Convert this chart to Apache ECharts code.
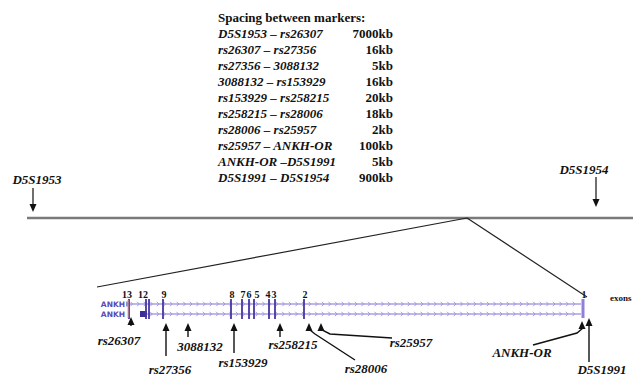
<!DOCTYPE html>
<html><head><meta charset="utf-8">
<script src="https://cdn.jsdelivr.net/npm/echarts@6/dist/echarts.min.js"></script>
<style>html,body{margin:0;padding:0;background:#fff}#c{width:633px;height:375px}</style>
</head><body><div id="c"></div>
<script>
// ---- data ----
const tableTitle = 'Spacing between markers:';
const pairLabels = ['D5S1953 – rs26307', 'rs26307 – rs27356', 'rs27356 – 3088132', '3088132 – rs153929',
  'rs153929 – rs258215', 'rs258215 – rs28006', 'rs28006 – rs25957', 'rs25957 – ANKH-OR',
  'ANKH-OR –D5S1991', 'D5S1991 – D5S1954'];
const spacingKb = [7000, 16, 5, 16, 20, 18, 2, 100, 5, 900];
const flankMarkers = ['D5S1953', 'D5S1954'];
const flankPos = [33, 596];
const exonNames = ['13', '12', '', '9', '8', '7', '6', '5', '4', '3', '2', '1'];
const exonPos = [129, 146, 149, 163, 231, 242, 249, 254, 269, 275, 304, 583];
const exonLabelPos = [127, 143, null, 164, 232, 243, 249, 257, 268, 274, 305, 584];
const geneMarkers = ['rs26307', 'rs27356', '3088132', 'rs153929', 'rs258215', 'rs28006', 'rs25957', 'ANKH-OR', 'D5S1991'];
const geneMarkerPos = [131, 166, 188, 234, 280, 309, 321, 582, 589];

// ---- layout (not data) ----
const chromY = 218, chromX0 = 27, chromX1 = 633;
const zoomApex = 467, zoomLeft = [97, 287], zoomRight = [587, 297];
const flankLayout = [{top: 188, tip: 212, lx: 37, ly: 179}, {top: 177, tip: 207, lx: 584, ly: 169}];
const row1Y = 304, row2Y = 314, trackLabelX = 125;
const markerLayout = [
  {tip: 317, path: [[0, 326]], lx: 119, ly: 340},
  {tip: 323, path: [[0, 356]], lx: 170, ly: 369},
  {tip: 323, path: [[0, 337]], lx: 200, ly: 346},
  {tip: 323, path: [[0, 353]], lx: 243, ly: 362},
  {tip: 323, path: [[0, 337]], lx: 293, ly: 344},
  {tip: 323, path: [[1, 330], [6, 334], [46, 360]], lx: 366, ly: 368},
  {tip: 323, path: [[1, 330], [9, 334], [71, 338]], lx: 411, ly: 342},
  {tip: 321, path: [[1, 328], [-5, 333], [-49, 345]], lx: 522, ly: 352},
  {tip: 318, path: [[0, 362]], lx: 602, ly: 369}
];
const serifBI = 'italic bold 13px "Liberation Serif", "DejaVu Serif", serif';
const serifB = 'bold 13px "Liberation Serif", "DejaVu Serif", serif';

const chart = echarts.init(document.getElementById('c'), null, {renderer: 'svg'});

function txt(x, y, text, font, align, color) {
  return {type: 'text', style: {x, y, text, font, textAlign: align || 'center', textVerticalAlign: 'middle', fill: color || '#111'}};
}
function upArrow(x, tip, path, color) {
  const pts = [[x, tip + 6]].concat(path.map(p => [x + p[0], p[1]]));
  return [
    {type: 'polyline', shape: {points: pts}, style: {stroke: color, lineWidth: 1.4, fill: null}},
    {type: 'polygon', shape: {points: [[x, tip], [x - 3.5, tip + 8], [x + 3.5, tip + 8]]}, style: {fill: color}}
  ];
}

const option = {
  animation: false,
  grid: {left: 0, right: 0, top: 0, bottom: 0},
  xAxis: {type: 'value', min: 0, max: 633, show: false},
  yAxis: {type: 'value', min: 0, max: 375, inverse: true, show: false},
  series: [
    // chromosome line
    {type: 'line', data: [[chromX0, chromY], [chromX1, chromY]], symbol: 'none',
      lineStyle: {color: '#7a7a7a', width: 2.5}},
    // zoom lines
    {type: 'line', data: [zoomLeft, [zoomApex, chromY], zoomRight], symbol: 'none',
      lineStyle: {color: '#222', width: 1.2}},
    // table
    {type: 'custom', data: pairLabels.map((p, i) => [i, spacingKb[i]]),
      renderItem: (params, api) => {
        const i = api.value(0);
        const y = 33 + i * 16.1;
        const children = [
          txt(218, y, pairLabels[i], serifBI, 'left'),
          txt(393, y, api.value(1) + 'kb', serifB, 'right')
        ];
        if (i === 0) children.push(txt(218, 17, tableTitle, serifB, 'left'));
        return {type: 'group', children};
      }},
    // flanking markers
    {type: 'custom', data: flankPos.map((x, i) => [x, i]),
      renderItem: (params, api) => {
        const i = api.value(1), L = flankLayout[i];
        const p = api.coord([api.value(0), L.tip]);
        const top = api.coord([0, L.top])[1];
        return {type: 'group', children: [
          {type: 'line', shape: {x1: p[0], y1: top, x2: p[0], y2: p[1] - 6}, style: {stroke: '#222', lineWidth: 1.3}},
          {type: 'polygon', shape: {points: [[p[0], p[1]], [p[0] - 3.5, p[1] - 8], [p[0] + 3.5, p[1] - 8]]}, style: {fill: '#111'}},
          txt(L.lx, L.ly, flankMarkers[i], serifBI, 'center')
        ]};
      }},
    // transcript tracks
    {type: 'custom', data: [[127, 581, row1Y, 0], [140, 581, row2Y, 1]],
      renderItem: (params, api) => {
        const p0 = api.coord([api.value(0), api.value(2)]), p1 = api.coord([api.value(1), api.value(2)]);
        const y = p0[1];
        const children = [
          {type: 'line', shape: {x1: p0[0], y1: y, x2: p1[0], y2: y}, style: {stroke: '#7f72d4', lineWidth: 1.1}},
          txt(trackLabelX, y, 'ANKH', 'bold 7.5px "DejaVu Sans", sans-serif', 'right', '#5a4bb8')
        ];
        for (let x = p0[0] + 5; x < p1[0] - 3; x += 6.6) {
          children.push({type: 'polyline', shape: {points: [[x - 1.5, y - 2.2], [x + 0.6, y], [x - 1.5, y + 2.2]]},
            style: {stroke: '#9d92e2', lineWidth: 0.9, fill: null}});
        }
        if (api.value(3) === 0) {
          children.push({type: 'line', shape: {x1: p0[0], y1: y - 2.5, x2: p0[0], y2: y + 2.5}, style: {stroke: '#4a3aa0', lineWidth: 1.2}});
        } else {
          children.push({type: 'rect', shape: {x: p0[0], y: y - 3, width: 7, height: 6}, style: {fill: '#3d2c98'}});
        }
        return {type: 'group', children};
      }},
    // exons
    {type: 'custom', data: exonPos.map((x, i) => [x, i]),
      renderItem: (params, api) => {
        const i = api.value(1);
        const p = api.coord([api.value(0), 299]);
        const last = i === exonPos.length - 1;
        const children = [{type: 'rect', shape: {x: p[0] - (last ? 1.5 : 0.9), y: p[1], width: last ? 3 : 1.8, height: last ? 19 : 20},
          style: {fill: last ? '#8d82d8' : '#4636a2'}}];
        if (exonNames[i]) {
          children.push(txt(exonLabelPos[i], 294, exonNames[i], 'bold 10px "Liberation Serif", serif', 'center'));
        }
        if (i === 0) {
          children.push({type: 'line', shape: {x1: p[0] - 1, y1: 300, x2: p[0] - 1, y2: 318}, style: {stroke: '#f0a080', lineWidth: 1}});
          children.push(txt(610, 298, 'exons', 'bold 9px "Liberation Serif", serif', 'left'));
        }
        return {type: 'group', children};
      }},
    // gene markers
    {type: 'custom', data: geneMarkerPos.map((x, i) => [x, i]),
      renderItem: (params, api) => {
        const i = api.value(1), L = markerLayout[i];
        const x = api.coord([api.value(0), 0])[0];
        return {type: 'group', children: upArrow(x, L.tip, L.path, '#111').concat([
          txt(L.lx, L.ly, geneMarkers[i], serifBI, 'center')
        ])};
      }}
  ]
};
chart.setOption(option);
</script>
</body></html>
